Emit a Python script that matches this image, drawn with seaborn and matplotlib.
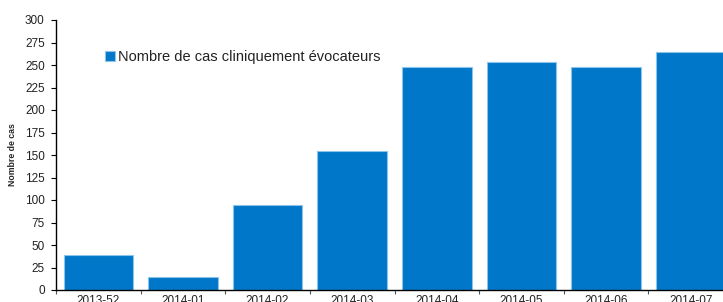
import matplotlib
matplotlib.use("Agg")
import matplotlib.pyplot as plt
import seaborn as sns
import pandas as pd
import numpy as np

semaines = ["2013-52", "2014-01", "2014-02", "2014-03", "2014-04", "2014-05", "2014-06", "2014-07"]
cas = [39, 14, 94, 155, 248, 253, 248, 264]
serie = "Nombre de cas cliniquement évocateurs"

sns.set_style("white")
plt.rcParams['font.family'] = ['Liberation Sans', 'DejaVu Sans']

df = pd.DataFrame({"semaine": semaines, "cas": cas, "serie": serie})

fig = plt.figure(figsize=(7.23, 3.02), dpi=100)
ax = fig.add_axes([56/723, 12/302, 677/723, 270/302])

sns.barplot(data=df, x="semaine", y="cas", hue="serie", palette=["#0077C8"],
            width=0.82, edgecolor="#8CC4EA", linewidth=0.8, ax=ax, saturation=1)

ax.set_xlim(-0.5, 7.5)
ax.set_ylim(0, 300)
ax.set_yticks(np.arange(0, 301, 25))
ax.tick_params(axis='y', labelsize=8.5, length=3.6, width=0.8, color='black', direction='out', left=True, pad=4.5, labelcolor='#222222')
ax.tick_params(axis='x', which='major', labelsize=8.5, length=0, pad=3.8, labelcolor='#222222')
ax.set_xticks(np.arange(-0.5, 8, 1), minor=True)
ax.tick_params(axis='x', which='minor', length=3, width=0.8, color='#555555', direction='out', bottom=True)
ax.set_xlabel("")
ax.set_ylabel("Nombre de cas", fontsize=6.3, fontweight='bold', fontstretch='condensed', labelpad=6)
for s in ["top", "right"]:
    ax.spines[s].set_visible(False)
for s in ["left", "bottom"]:
    ax.spines[s].set_color("black")
    ax.spines[s].set_linewidth(1.0)

ax.legend(loc='center left', bbox_to_anchor=(0.072, 0.863), frameon=False,
          handlelength=0.7, handleheight=0.7, handletextpad=0.2, borderpad=0,
          fontsize=10.5, borderaxespad=0, labelcolor='#222222')

fig.savefig("out.png", dpi=100)
